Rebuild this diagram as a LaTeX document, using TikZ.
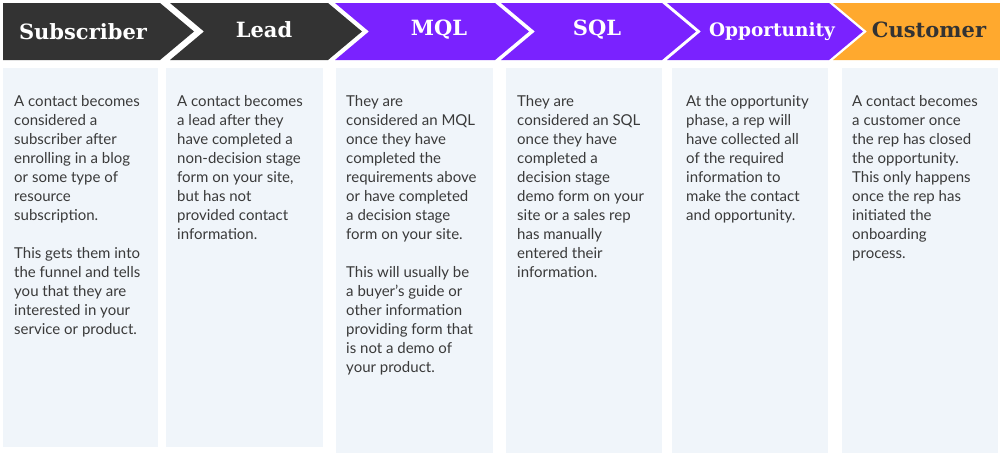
\documentclass[tikz,border=0pt]{standalone}
\usepackage{fontspec}
\setmainfont{Lato}
\newfontfamily\titlefont{DejaVu Serif}
\definecolor{dk}{HTML}{333333}
\definecolor{pu}{HTML}{7A22FF}
\definecolor{og}{HTML}{FFA92E}
\definecolor{bx}{HTML}{F0F5FA}
\definecolor{tx}{HTML}{3A3A3A}
\begin{document}
\begin{tikzpicture}[x=1pt,y=-1pt,
  ttl/.style={font=\titlefont\bfseries\fontsize{21}{24}\selectfont,anchor=center},
  body/.style={font=\fontsize{15}{19}\selectfont,text=tx,anchor=north west,align=left,inner sep=0pt}]
\useasboundingbox (0,0) rectangle (1000,453);
\fill[white] (0,0) rectangle (1000,453);
% boxes
\fill[bx] (3,68) rectangle (158,447);
\fill[bx] (166,68) rectangle (323,447);
\fill[bx] (336,68) rectangle (493,453);
\fill[bx] (506,68) rectangle (662,453);
\fill[bx] (672,68) rectangle (828,453);
\fill[bx] (842,68) rectangle (998,453);
% chevrons
\fill[dk] (3,3) -- (160,3) -- (194,31.5) -- (160,60) -- (3,60) -- cycle;
\fill[dk] (170,3) -- (328,3) -- (362,31.5) -- (328,60) -- (170,60) -- (204,31.5) -- cycle;
\fill[pu] (335,3) -- (495,3) -- (529,31.5) -- (495,60) -- (335,60) -- (369,31.5) -- cycle;
\fill[pu] (501,3) -- (662,3) -- (696,31.5) -- (662,60) -- (501,60) -- (535,31.5) -- cycle;
\fill[pu] (667,3) -- (829,3) -- (863,31.5) -- (829,60) -- (667,60) -- (701,31.5) -- cycle;
\fill[og] (833,3) -- (1000,3) -- (1000,60) -- (833,60) -- (867,31.5) -- cycle;
\node[ttl,white] (t1) at (83,31.5) {Subscriber};
\node[ttl,white] (t2) at (264,30) {Lead};
\node[ttl,white] (t3) at (439,30) {MQL};
\node[ttl,white] (t4) at (597,30) {SQL};
\node[ttl,white,font=\titlefont\bfseries\fontsize{18.5}{20}\selectfont] (t5) at (772,31.5) {Opportunity};
\node[ttl,text=dk] (t6) at (929,30) {Customer};
% texts
\node[body] (b1) at (14,95) {A contact becomes\\considered a\\subscriber after\\enrolling in a blog\\or some type of\\resource\\subscription.\\[19pt]This gets them into\\the funnel and tells\\you that they are\\interested in your\\service or product.};
\node[body] (b2) at (177,95) {A contact becomes\\a lead after they\\have completed a\\non-decision stage\\form on your site,\\but has not\\provided contact\\information.};
\node[body] (b3) at (346,95) {They are\\considered an MQL\\once they have\\completed the\\requirements above\\or have completed\\a decision stage\\form on your site.\\[19pt]This will usually be\\a buyer’s guide or\\other information\\providing form that\\is not a demo of\\your product.};
\node[body] (b4) at (517,95) {They are\\considered an SQL\\once they have\\completed a\\decision stage\\demo form on your\\site or a sales rep\\has manually\\entered their\\information.};
\node[body] (b5) at (686,95) {At the opportunity\\phase, a rep will\\have collected all\\of the required\\information to\\make the contact\\and opportunity.};
\node[body] (b6) at (852,95) {A contact becomes\\a customer once\\the rep has closed\\the opportunity.\\This only happens\\once the rep has\\initiated the\\onboarding\\process.};
\end{tikzpicture}
\end{document}
